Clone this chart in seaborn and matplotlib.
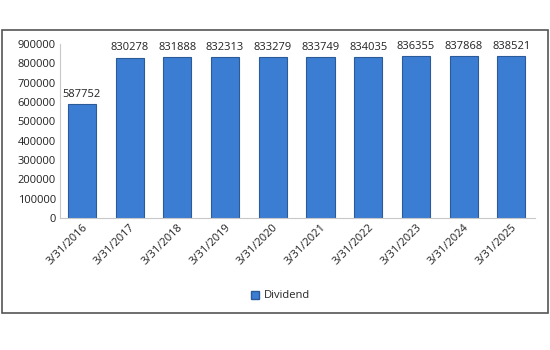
import matplotlib
matplotlib.use("Agg")
import matplotlib.pyplot as plt
import seaborn as sns
import pandas as pd
from matplotlib.patches import Rectangle

dates = ["3/31/2016", "3/31/2017", "3/31/2018", "3/31/2019", "3/31/2020",
         "3/31/2021", "3/31/2022", "3/31/2023", "3/31/2024", "3/31/2025"]
dividend = [587752, 830278, 831888, 832313, 833279, 833749, 834035, 836355, 837868, 838521]
yticks = [0, 100000, 200000, 300000, 400000, 500000, 600000, 700000, 800000, 900000]

sns.set_theme(style="white")
plt.rcParams['font.family'] = ['Open Sans', 'DejaVu Sans']

df = pd.DataFrame({"Date": dates, "Dividend": dividend, "series": "Dividend"})

fig = plt.figure(figsize=(5.5, 3.5), dpi=100)
ax = fig.add_axes([0.109, 0.377, 0.864, 0.497])
sns.barplot(data=df, x="Date", y="Dividend", hue="series", palette=["#3B7DD3"],
            saturation=1, width=0.59, edgecolor="#2A5A98", linewidth=0.8, ax=ax, legend=False)

for i, v in enumerate(dividend):
    ax.text(i, v + 22000, f"{v}", ha="center", va="bottom", fontsize=8, color="#222222")

ax.set_ylim(0, 900000)
ax.set_yticks(yticks)
ax.set_yticklabels([str(t) for t in yticks], fontsize=8, color="#222222")
ax.set_xticks(range(len(dates)))
ax.set_xticklabels(dates, rotation=45, ha="right", rotation_mode="anchor", fontsize=8, color="#222222")
ax.tick_params(axis="both", length=0, pad=3)
ax.set_xlabel("")
ax.set_ylabel("")
for s in ["top", "right"]:
    ax.spines[s].set_visible(False)
for s in ["left", "bottom"]:
    ax.spines[s].set_color("#C8C8C8")
    ax.spines[s].set_linewidth(0.8)
ax.set_xlim(-0.46, 9.5)

# legend
handle = Rectangle((0, 0), 1, 1, facecolor="#3B7DD3", edgecolor="#2A5A98")
fig.legend([handle], ["Dividend"], loc="center", bbox_to_anchor=(0.51, 1 - 296 / 350),
           frameon=False, fontsize=8, handlelength=0.7, handleheight=0.7, handletextpad=0.4)

# outer border
fig.add_artist(Rectangle((2 / 550, 1 - 313 / 350), 546 / 550, 283 / 350,
                         transform=fig.transFigure, fill=False, edgecolor="#555555", linewidth=1.2))

fig.savefig("out.png", dpi=100)
